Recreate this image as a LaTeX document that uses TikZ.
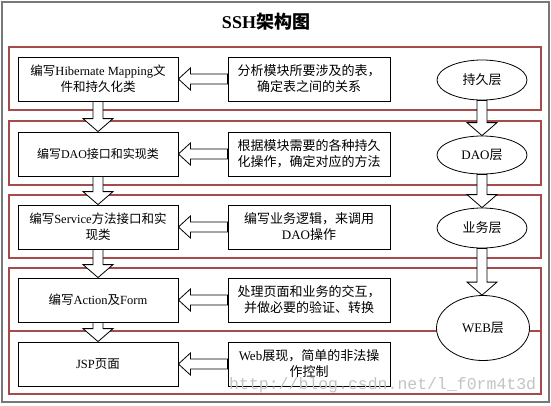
\documentclass[tikz,border=0pt]{standalone}
\usepackage{fontspec}
\setmainfont{Liberation Serif}
\newfontfamily\cjk{Noto Sans CJK SC}
\newfontfamily\wmfont{Liberation Mono}
\newcommand\C[1]{{\cjk #1}}
\usetikzlibrary{calc,shapes.geometric}
\pgfdeclarelayer{bg}
\pgfsetlayers{bg,main}
\definecolor{panelred}{RGB}{165,75,75}
\definecolor{framegray}{RGB}{120,120,120}
\definecolor{wmgray}{RGB}{195,195,195}
\tikzset{
 panel/.style={draw=panelred, line width=1.4pt},
 textbox/.style={draw=black, line width=0.8pt, fill=white, minimum width=160pt, minimum height=44pt, inner sep=0pt, align=center, font=\fontsize{12.5}{16}\selectfont},
 notebox/.style={textbox, minimum width=162pt, font=\fontsize{13}{16}\selectfont},
 layer/.style={draw=black, line width=0.8pt, fill=white, ellipse, minimum width=90pt, minimum height=40pt, inner sep=0pt, font=\fontsize{13}{16}\selectfont},
 blockarrow/.style={draw=black, line width=0.8pt, fill=white, line join=miter},
}
\newcommand\varrow[2]{\draw[blockarrow] let \p1=(#1), \p2=(#2) in (\x1-5pt,\y1) -- (\x1-5pt,\y2+13pt) -- (\x1-15pt,\y2+13pt) -- (\x1,\y2) -- (\x1+15pt,\y2+13pt) -- (\x1+5pt,\y2+13pt) -- (\x1+5pt,\y1) -- cycle;}
\newcommand\harrow[2]{\draw[blockarrow] let \p1=(#1), \p2=(#2) in (\x1,\y1+5pt) -- (\x2+12pt,\y1+5pt) -- (\x2+12pt,\y1+11pt) -- (\x2,\y1) -- (\x2+12pt,\y1-11pt) -- (\x2+12pt,\y1-5pt) -- (\x1,\y1-5pt) -- cycle;}
\begin{document}
\begin{tikzpicture}[x=1pt,y=-1pt]
\useasboundingbox (0,0) rectangle (551,405);
\draw[framegray, line width=2pt] (1.5,1.5) rectangle (548.5,402);
\node[font=\fontsize{18}{20}\selectfont\bfseries] (title) at (266,22) {SSH\C{架构图}};
% left boxes
\node[textbox] (l1) at (98,79) {\C{编写}Hibernate Mapping\C{文}\\\C{件和持久化类}};
\node[textbox, font=\fontsize{12}{16}\selectfont] (l2) at (98,154) {\C{编写}DAO\C{接口和实现类}};
\node[textbox] (l3) at (98,227) {\C{编写}Service\C{方法接口和实}\\\C{现类}};
\node[textbox] (l4) at (98,300) {\C{编写}Action\C{及}Form};
\node[textbox] (l5) at (98,364) {JSP\C{页面}};
% right boxes
\node[notebox] (r1) at (309,79) {\C{分析模块所要涉及的表，}\\\C{确定表之间的关系}};
\node[notebox] (r2) at (309,154) {\C{根据模块需要的各种持久}\\\C{化操作，确定对应的方法}};
\node[notebox] (r3) at (309,227) {\C{编写业务逻辑，来调用}\\DAO\C{操作}};
\node[notebox] (r4) at (309,300) {\C{处理页面和业务的交互，}\\\C{并做必要的验证、转换}};
\node[notebox] (r5) at (309,364) {Web\C{展现，简单的非法操}\\\C{作控制}};
% layers
\node[layer] (e1) at (482,80) {\C{持久层}};
\node[layer, minimum height=38pt] (e2) at (482,155) {DAO\C{层}};
\node[layer] (e3) at (482,228) {\C{业务层}};
\node[layer, minimum width=93pt, minimum height=65pt] (e4) at (483,328) {WEB\C{层}};
\begin{pgfonlayer}{bg}
\draw[panel] (9,47) rectangle (541,110);
\draw[panel] (9,121) rectangle (541,185);
\draw[panel] (9,195) rectangle (541,258);
\draw[panel] (9,268) rectangle (541,331);
\draw[panel] (9,331) rectangle (541,394);
\varrow{l1.south}{l2.north}
\varrow{l2.south}{l3.north}
\varrow{l3.south}{l4.north}
\varrow{l4.south}{l5.north}
\varrow{e1.south}{e2.north}
\varrow{e2.south}{e3.north}
\varrow{e3.south}{e4.north}
\harrow{r1.west}{l1.east}
\harrow{r2.west}{l2.east}
\harrow{r3.west}{l3.east}
\harrow{r4.west}{l4.east}
\harrow{r5.west}{l5.east}
\end{pgfonlayer}
\node[anchor=base west, text=wmgray, inner sep=0pt, font=\wmfont\fontsize{16.5}{16.5}\selectfont] (wm) at (229,389) {http://blog.csdn.net/l\_f0rm4t3d};
\end{tikzpicture}
\end{document}
